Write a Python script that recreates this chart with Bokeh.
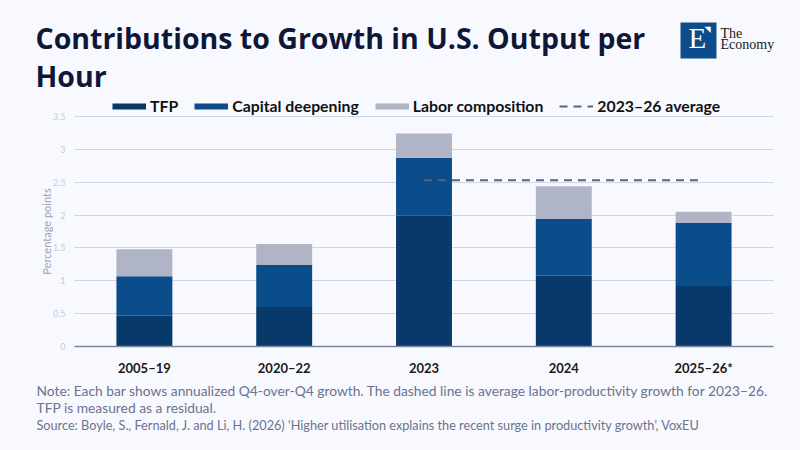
from bokeh.plotting import figure
from bokeh.models import (ColumnDataSource, Range1d, FixedTicker, NumeralTickFormatter,
                          Label, Legend, LegendItem, BoxAnnotation)
from bokeh.embed import file_html
from bokeh.resources import INLINE

# ---- data ----
categories = ["2005–19", "2020–22", "2023", "2024", "2025–26*"]
tfp = [0.47, 0.60, 1.99, 1.08, 0.92]
capital = [0.60, 0.64, 0.88, 0.86, 0.96]
labor = [0.41, 0.32, 0.37, 0.50, 0.17]
avg_from, avg_to = "2023", "2025–26*"
avg_value = 2.53
y_ticks = [0, 0.5, 1, 1.5, 2, 2.5, 3, 3.5]

BG = "#F8F9FE"
C_TFP = "#08396B"
C_CAP = "#0B4C8A"
C_LAB = "#AFB5C7"
C_AVG = "#5A6380"
FONT = "Lato"
W, H = 784, 442

pos = [i + 0.5 for i in range(len(categories))]
source = ColumnDataSource(dict(x=pos, tfp=tfp, capital=capital, labor=labor))

# the frame covers the whole canvas; the chart area (0..5, 0..3.5) sits inside it
p = figure(width=W, height=H, x_range=Range1d(-0.5293, 5.0787), y_range=Range1d(-1.4609, 5.2652),
           output_backend="svg", toolbar_location=None,
           min_border_left=0, min_border_right=0, min_border_top=0, min_border_bottom=0)
p.background_fill_color = BG
p.border_fill_color = BG
p.outline_line_color = None

p.vbar_stack(["tfp", "capital", "labor"], x="x", width=0.4,
             color=[C_TFP, C_CAP, C_LAB], line_color=None, source=source)

avg_x = [pos[categories.index(avg_from)], pos[categories.index(avg_to)]]
avg_line = p.line(x=avg_x, y=[avg_value, avg_value], line_color=C_AVG, line_width=2,
                  line_dash="8 6")

# grid
p.xgrid.grid_line_color = None
p.ygrid.ticker = FixedTicker(ticks=y_ticks)
p.ygrid.grid_line_color = "#CDD6E5"
p.ygrid.grid_line_width = 1
try:
    p.ygrid.cross_bounds = (0, len(categories))
except Exception:
    pass

# y axis
ya = p.yaxis[0]
ya.fixed_location = 0
ya.bounds = (0, 3.5)
ya.ticker = FixedTicker(ticks=y_ticks)
ya.formatter = NumeralTickFormatter(format="0.[0]")
ya.axis_line_color = None
ya.major_tick_line_color = None
ya.minor_tick_line_color = None
ya.major_tick_out = 0
ya.major_label_standoff = 9
ya.major_label_text_font = FONT
ya.major_label_text_font_size = "9px"
ya.major_label_text_color = "#C3CCDF"
ya.axis_label = "Percentage points"
ya.axis_label_text_font = FONT
ya.axis_label_text_font_style = "normal"
ya.axis_label_text_font_size = "11px"
ya.axis_label_text_color = "#9AA3BB"
ya.axis_label_standoff = -3

# x axis
xa = p.xaxis[0]
xa.fixed_location = 0
xa.bounds = (0, len(categories))
xa.ticker = FixedTicker(ticks=pos)
xa.major_label_overrides = {x: c for x, c in zip(pos, categories)}
xa.axis_line_color = "#7E869E"
xa.axis_line_width = 1.5
xa.major_tick_line_color = None
xa.minor_tick_line_color = None
xa.major_tick_out = 0
xa.major_label_standoff = 14
xa.major_label_text_font = FONT
xa.major_label_text_font_style = "bold"
xa.major_label_text_font_size = "13px"
xa.major_label_text_color = "#1A1A1A"

# legend (bar swatches drawn as thick legend lines; the dummy lines draw nothing)
nan = float("nan")
sw_tfp = p.line(x=[nan], y=[nan], line_color=C_TFP, line_width=6)
sw_cap = p.line(x=[nan], y=[nan], line_color=C_CAP, line_width=6)
sw_lab = p.line(x=[nan], y=[nan], line_color=C_LAB, line_width=6)
legend = Legend(items=[LegendItem(label="TFP", renderers=[sw_tfp]),
                       LegendItem(label="Capital deepening", renderers=[sw_cap]),
                       LegendItem(label="Labor composition", renderers=[sw_lab]),
                       LegendItem(label="2023–26 average", renderers=[avg_line])],
                orientation="horizontal", location=(112, H - 115),
                glyph_width=34, glyph_height=16, label_height=16, label_standoff=4,
                spacing=16, padding=0, margin=0,
                border_line_color=None, background_fill_alpha=0,
                label_text_font=FONT, label_text_font_style="bold",
                label_text_font_size="15.8px", label_text_color="#111111")
p.add_layout(legend, "center")


def lab(text, x, y, size, color, style="normal", font=FONT, **kw):
    # x, y: baseline position in pixels from the top-left of the picture
    fs = float(size.replace("px", ""))
    p.add_layout(Label(x=x, y=H - y + 0.38 * fs, x_units="screen", y_units="screen", text=text,
                       text_font=font, text_font_size=size, text_color=color,
                       text_font_style=style, text_baseline="alphabetic", **kw))


# title
lab("Contributions to Growth in U.S. Output per", 35, 48, "28.5px", "#0F1738", "bold",
    font="Open Sans")
lab("Hour", 35, 86, "28.5px", "#0F1738", "bold", font="Open Sans")

# footnotes
lab("Note: Each bar shows annualized Q4-over-Q4 growth. The dashed line is average "
    "labor-productivity growth for 2023–26.", 36, 395, "13.8px", "#6B7290")
lab("TFP is measured as a residual.", 36, 412, "13.8px", "#6B7290")
lab("Source: Boyle, S., Fernald, J. and Li, H. (2026) ‘Higher utilisation explains the "
    "recent surge in productivity growth’, VoxEU", 36, 429, "12.7px", "#6B7290")

# logo
p.add_layout(BoxAnnotation(left=680, right=716, top=H - 22, bottom=H - 58,
                           left_units="screen", right_units="screen",
                           top_units="screen", bottom_units="screen",
                           fill_color=C_CAP, fill_alpha=1, line_color=None))
lab("E", 688, 49, "29px", "white", font="Liberation Serif")
lab("◥", 704, 32, "8px", "white", font="DejaVu Sans")
lab("The", 720, 38, "14px", "#1A1A1A", font="Liberation Serif")
lab("Economy", 720, 49, "14px", "#1A1A1A", font="Liberation Serif")

html = file_html(p, INLINE)
html = html.replace("<head>", "<head><style>html,body{background:%s;}</style>" % BG, 1)
open("out.html", "w").write(html)
